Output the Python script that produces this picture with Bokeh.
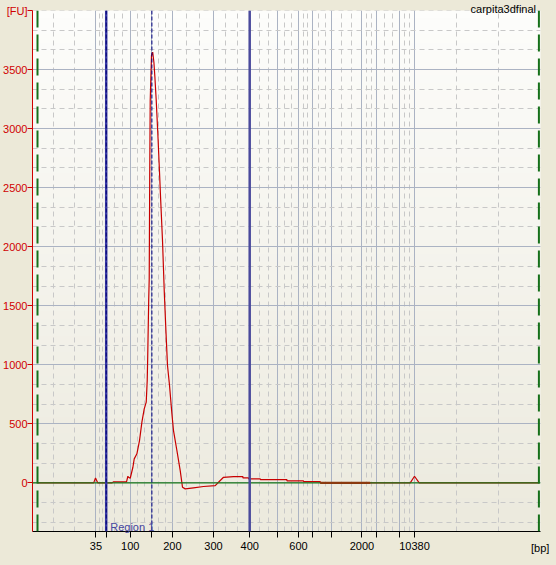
import numpy as np
from bokeh.plotting import figure
from bokeh.models import FixedTicker, Span
from bokeh.core.properties import value
from bokeh.embed import file_html
from bokeh.resources import INLINE

# ---- data ----
ladder_bp = [35, 50, 100, 150, 200, 300, 400, 500, 600, 700, 1000, 2000, 3000, 7000, 10380]
ladder_time = [31.85, 34.43, 40.43, 45.85, 50.98, 61.25, 70.3, 77.35, 82.5, 86.0,
               90.8, 98.35, 102.05, 107.85, 111.5]
labeled_bp = [35, 100, 200, 300, 400, 600, 2000, 10380]

trace_time = [17.25, 31.3, 31.75, 32.3, 35.9, 36.2, 39.5, 39.85, 40.0, 40.43, 41.1, 41.43,
              42.1, 42.75, 43.35, 43.93, 44.43, 44.68, 44.8, 45.05, 45.18, 45.3, 45.43,
              45.75, 46.05, 46.35, 46.6, 46.93, 47.35, 47.68, 48.05, 48.5, 48.93, 49.35,
              49.75, 50.25, 50.85, 51.25, 52.1, 52.93, 53.5, 54.18, 56.25, 58.75, 61.68,
              62.5, 63.75, 66.25, 68.6, 68.61, 70.0, 70.01, 72.93, 72.94, 79.6, 79.61,
              83.75, 83.76, 87.93, 87.94, 110.43, 111.5, 112.68, 142.6]
trace_fu = [0, 0, 42, 0, 0, 8, 8, 56, 47, 39, 132, 203,
            246, 358, 514, 627, 683, 867, 1062, 1545, 1731, 2562, 3240,
            3621, 3647, 3562, 3435, 3240, 2943, 2689, 2392, 2053, 1630, 1291,
            994, 826, 585, 443, 274, 104, -37, -51, -42, -31, -23,
            5, 47, 53, 53, 42, 42, 34, 34, 28, 28, 17,
            17, 11, 11, 0, 0, 56, 0, 0]
flat_time = [87.94, 100.43]
flat_fu = [0, 0]

region_start_bp = 50
region_end_bp = 400
peak_bp = 150
analysis_start = 17.25
analysis_end = 142.6
x_min, x_max = 16.0, 143.0
y_min, y_max = -412.0, 4000.0
fu_major = list(range(0, 4001, 500))
sample_name = "carpita3dfinal"
region_name = "Region 1"
x_unit = "[bp]"

# ---- derived ----
t_of = dict(zip(ladder_bp, ladder_time))
bounds = [x_min] + ladder_time + [x_max]
x_minor = []
for a, b in zip(bounds[:-1], bounds[1:]):
    x_minor += [a + (b - a) / 3.0, a + 2 * (b - a) / 3.0]
y_minor = [float(v) for v in np.arange(-2 * 500 / 3.0, y_max + 1, 500 / 3.0)]

RED = "#d00000"
BEIGE = "#ece9d8"
FONT = "Liberation Sans"

p = figure(frame_width=508, frame_height=521,
           min_border_left=0, min_border_right=16, min_border_top=10, min_border_bottom=34,
           x_range=(x_min, x_max), y_range=(y_min, y_max),
           output_backend="svg", toolbar_location=None,
           border_fill_color=BEIGE, background_fill_color="#f6f5ef")
p.outline_line_color = None

# background gradient
n = 64
grad = np.zeros((n, 1), dtype=np.uint32)
view = grad.view(dtype=np.uint8).reshape((n, 1, 4))
bot = np.array([236, 234, 222]); top = np.array([253, 253, 251])
for i in range(n):
    f = i / (n - 1)
    c = bot + (top - bot) * f
    view[i, 0, 0:3] = c.astype(np.uint8)
    view[i, 0, 3] = 255
p.image_rgba(image=[grad], x=x_min, y=y_min, dw=x_max - x_min, dh=y_max - y_min, level="image")

# axes
p.xaxis.ticker = FixedTicker(ticks=ladder_time, minor_ticks=x_minor)
p.xaxis.major_label_overrides = {t: (str(bp) if bp in labeled_bp else "")
                                 for t, bp in zip(ladder_time, ladder_bp)}
p.xaxis.axis_line_color = "black"
p.xaxis.major_tick_line_color = "black"
p.xaxis.major_tick_out = 6
p.xaxis.major_tick_in = 0
p.xaxis.minor_tick_out = 0
p.xaxis.minor_tick_in = 0
p.xaxis.major_label_standoff = 4
p.xaxis.major_label_text_font = FONT
p.xaxis.major_label_text_font_size = "11px"
p.xaxis.major_label_text_color = "black"

p.yaxis.ticker = FixedTicker(ticks=fu_major, minor_ticks=y_minor)
p.yaxis.major_label_overrides = {4000: "[FU]"}
p.yaxis.axis_line_color = RED
p.yaxis.major_tick_line_color = RED
p.yaxis.major_tick_out = 5
p.yaxis.major_tick_in = 0
p.yaxis.minor_tick_out = 0
p.yaxis.minor_tick_in = 0
p.yaxis.major_label_standoff = 0
p.yaxis.major_label_text_font = FONT
p.yaxis.major_label_text_font_size = "11px"
p.yaxis.major_label_text_color = RED

for g in (p.xgrid, p.ygrid):
    g.grid_line_color = "#abb3c3"
    g.grid_line_width = 1
    g.minor_grid_line_color = "#c8c8c8"
    g.minor_grid_line_dash = "5 4"
    g.minor_grid_line_width = 1

# trace
p.line(trace_time, trace_fu, line_color="#c80000", line_width=1.2)

# baseline and markers
p.add_layout(Span(location=0, dimension="width", line_color="#1a7a1a", line_width=1.3))
p.add_layout(Span(location=analysis_start, dimension="height", line_color="#16701a",
                  line_width=2, line_dash="17 7"))
p.add_layout(Span(location=analysis_end, dimension="height", line_color="#16701a",
                  line_width=2, line_dash="17 7"))
p.add_layout(Span(location=t_of[region_start_bp], dimension="height", line_color="#3c3ca8",
                  line_width=2.5))
p.add_layout(Span(location=t_of[region_start_bp], dimension="height", line_color="#000070",
                  line_width=1, line_dash="4 2"))
p.add_layout(Span(location=t_of[region_end_bp], dimension="height", line_color="#4a4a9c",
                  line_width=2.5))
p.add_layout(Span(location=t_of[peak_bp], dimension="height", line_color="#000080",
                  line_width=1, line_dash="4 2"))

flat = p.line(flat_time, flat_fu, line_color="#8b3a10", line_width=2.2)
flat.level = "overlay"

# texts (overlay level so they are not clipped to the frame)
t1 = p.text(x=[t_of[region_start_bp]], y=[y_min], text=[region_name], x_offset=4, y_offset=-4.5,
            text_baseline="alphabetic", text_align="left", text_font=value(FONT),
            text_font_size="11px", text_color="#4646a0")
t2 = p.text(x=[x_max], y=[y_min], text=[x_unit], x_offset=-9.5, y_offset=16.5,
            text_baseline="alphabetic", text_align="left", text_font=value(FONT),
            text_font_size="11px", text_color="black")
t3 = p.text(x=[x_max], y=[y_max], text=[sample_name], x_offset=-4.5, y_offset=-1.3,
            text_baseline="alphabetic", text_align="right", text_font=value(FONT),
            text_font_size="11px", text_color="black")
for r in (t1, t2, t3):
    r.level = "overlay"

html = file_html(p, INLINE)
style = "<style>html,body{margin:0;padding:0;background:%s;overflow:hidden}</style>" % BEIGE
if "</head>" in html:
    html = html.replace("</head>", style + "</head>", 1)
else:
    html = style + html
open("out.html", "w").write(html)
